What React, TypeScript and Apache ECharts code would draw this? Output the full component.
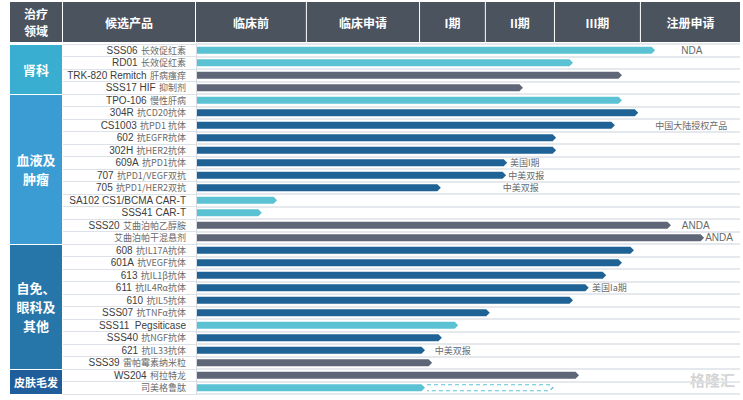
import React, { useEffect, useRef } from "react";
import * as echarts from "echarts";

// ---------- data ----------
const stages = ["临床前", "临床申请", "I期", "II期", "III期", "注册申请"];
// stage column boundaries, in % of the pipeline axis
const stageBounds = [0, 20.2, 41.0, 53.1, 65.8, 81.6, 100];

const domains = ["肾科", "血液及\n肿瘤", "自免、\n眼科及\n其他", "皮肤毛发"];
const domainCounts = [4, 12, 10, 2];

const productCodes = [
  "SSS06", "RD01", "TRK-820 Remitch", "SSS17 HIF",
  "TPO-106", "304R", "CS1003", "602", "302H", "609A", "707", "705",
  "SA102 CS1/BCMA CAR-T", "SSS41 CAR-T", "SSS20", "",
  "608", "601A", "613", "611", "610", "SSS07", "SSS11  Pegsiticase", "SSS40", "621", "SSS39",
  "WS204", "",
];
const productDescs = [
  "长效促红素", "长效促红素", "肝病瘙痒", "抑制剂",
  "慢性肝病", "抗CD20抗体", "抗PD1 抗体", "抗EGFR抗体", "抗HER2抗体", "抗PD1抗体", "抗PD1/VEGF双抗", "抗PD1/HER2双抗",
  "", "", "艾曲泊帕乙醇胺", "艾曲泊帕干混悬剂",
  "抗IL17A抗体", "抗VEGF抗体", "抗IL1β抗体", "抗IL4Rα抗体", "抗IL5抗体", "抗TNFα抗体", "", "抗NGF抗体", "抗IL33抗体", "雷帕霉素纳米粒",
  "柯拉特龙", "司美格鲁肽",
];
// progress along the pipeline (% of axis)
const progress = [
  84.4, 69.3, 78.3, 60.1,
  78.3, 81.3, 77.0, 66.2, 66.2, 57.2, 57.0, 45.0,
  14.9, 12.1, 87.3, 93.4,
  80.5, 78.3, 75.4, 72.2, 69.3, 54.0, 48.2, 45.2, 42.1, 43.4,
  70.4, 42.1,
];
// planned (dashed) extension end, 0 = none
const planned = [
  0, 0, 0, 0,
  0, 0, 0, 0, 0, 0, 0, 0,
  0, 0, 0, 0,
  0, 0, 0, 0, 0, 0, 0, 0, 0, 0,
  0, 65.6,
];
// bar colour group: c = cyan, b = blue, s = slate
const barGroup = [
  "c", "c", "s", "s",
  "c", "b", "b", "b", "b", "b", "b", "b",
  "c", "c", "s", "s",
  "b", "b", "b", "b", "b", "b", "c", "b", "b", "s",
  "s", "c",
];

const noteRows = [0, 6, 9, 10, 11, 14, 15, 19, 24];
const noteX = [89.2, 84.4, 57.7, 57.4, 56.4, 89.3, 93.6, 72.8, 43.9];
const noteTexts = ["NDA", "中国大陆授权产品", "美国I期", "中美双报", "中美双报", "ANDA", "ANDA", "美国Ia期", "中美双报"];

// ---------- layout / style ----------
const W = 743;
const H = 400;
const GRID_LEFT = 196;
const GRID_RIGHT = 3;
const GRID_TOP = 44;
const GRID_BOTTOM = 6;
const HEADER_TOP = 2;
const HEADER_H = 40;
const colors: Record<string, string> = { c: "#5BC2D4", b: "#1F6396", s: "#5E6677" };
const domainColors = ["#3AAED0", "#3A9CD2", "#2776AA", "#1F5E9A"];
const HEADER_BG = "#4B535F";
const CJK = "'Noto Sans CJK SC', 'Noto Sans', sans-serif";

export default function App() {
  const ref = useRef<HTMLDivElement>(null);

  useEffect(() => {
    if (!ref.current) return;
    const chart = echarts.init(ref.current, undefined, { renderer: "svg" });

    const plotW = W - GRID_LEFT - GRID_RIGHT;
    const plotH = H - GRID_TOP - GRID_BOTTOM;
    const rowH = plotH / productCodes.length;
    const vx = (v: number) => GRID_LEFT + (v / 100) * plotW;

    const graphics: any[] = [];
    // header cells
    const headerCells: { x0: number; x1: number; text: string }[] = [
      { x0: 10, x1: 62, text: "治疗\n领域" },
      { x0: 63, x1: 195, text: "候选产品" },
    ];
    stages.forEach((s, i) => {
      headerCells.push({ x0: vx(stageBounds[i]) + (i === 0 ? 0 : 1), x1: vx(stageBounds[i + 1]), text: s });
    });
    headerCells.forEach((c) => {
      graphics.push({
        type: "rect",
        shape: { x: c.x0, y: HEADER_TOP, width: c.x1 - c.x0, height: HEADER_H },
        style: { fill: HEADER_BG },
        silent: true,
      });
      graphics.push({
        type: "text",
        x: (c.x0 + c.x1) / 2,
        y: HEADER_TOP + HEADER_H / 2,
        style: {
          text: c.text,
          fill: "#ffffff",
          font: `bold 12px ${CJK}`,
          align: "center",
          verticalAlign: "middle",
          lineHeight: 17,
        },
        silent: true,
      });
    });
    // domain cells
    let acc = 0;
    domains.forEach((d, i) => {
      const y0 = GRID_TOP + acc * rowH;
      const h = domainCounts[i] * rowH;
      graphics.push({
        type: "rect",
        shape: { x: 10, y: y0 + 1, width: 52, height: h - 1 },
        style: { fill: domainColors[i] },
        silent: true,
      });
      graphics.push({
        type: "text",
        x: 36,
        y: y0 + h / 2,
        style: {
          text: d,
          fill: "#ffffff",
          font: `bold ${i === 3 ? 11 : 13}px ${CJK}`,
          align: "center",
          verticalAlign: "middle",
          lineHeight: 19,
        },
        silent: true,
      });
      acc += domainCounts[i];
    });
    // watermark
    graphics.push({
      type: "text",
      right: 8,
      top: 372,
      style: { text: "格隆汇", fill: "#d4d4d4", font: `bold 15px ${CJK}` },
      silent: true,
    });

    const rows = productCodes.map((_, i) => String(i));

    const option: any = {
      animation: false,
      backgroundColor: "#ffffff",
      grid: { left: GRID_LEFT, right: GRID_RIGHT, top: GRID_TOP, bottom: GRID_BOTTOM },
      xAxis: {
        type: "value",
        min: 0,
        max: 100,
        show: false,
      },
      yAxis: {
        type: "category",
        inverse: true,
        data: rows,
        axisLine: { show: true, lineStyle: { color: "#d6dbe1", width: 1 } },
        axisTick: { show: true, interval: 0, length: 133, lineStyle: { color: "#dde2e8", width: 1 } },
        splitLine: { show: true, interval: 0, lineStyle: { color: "#dde2e8", width: 1.5 } },
        axisLabel: {
          margin: 10,
          interval: 0,
          formatter: (_v: string, idx: number) => {
            const code = productCodes[idx];
            const desc = productDescs[idx];
            const parts: string[] = [];
            if (code) parts.push(`{a|${code}}`);
            if (desc) parts.push(`{b|${desc}}`);
            return parts.join(" ");
          },
          rich: {
            a: { fontFamily: "'Liberation Sans', Arial, sans-serif", fontSize: 10, color: "#3d3d3d" },
            b: { fontFamily: CJK, fontSize: 9, color: "#6a6a6a" },
          },
        },
      },
      graphic: graphics,
      series: [
        {
          type: "custom",
          name: "progress",
          encode: { x: [1, 2], y: 0 },
          data: progress.map((p, i) => [i, p, planned[i]]),
          renderItem: (params: any, api: any) => {
            const row = api.value(0);
            const end = api.value(1);
            const plan = api.value(2);
            const s = api.coord([0, row]);
            const e = api.coord([end, row]);
            const y = s[1];
            const h = 7;
            const tip = 3.5;
            const x0 = s[0] + 1;
            const x1 = e[0];
            const col = colors[barGroup[params.dataIndex]];
            const children: any[] = [
              {
                type: "polygon",
                shape: {
                  points: [
                    [x0, y - h / 2],
                    [x1 - tip, y - h / 2],
                    [x1, y],
                    [x1 - tip, y + h / 2],
                    [x0, y + h / 2],
                  ],
                },
                style: { fill: col },
              },
            ];
            if (plan) {
              const px = api.coord([plan, row])[0];
              children.push({
                type: "polyline",
                shape: {
                  points: [
                    [x1 + 2, y - h / 2 + 0.5],
                    [px - tip, y - h / 2 + 0.5],
                    [px, y],
                    [px - tip, y + h / 2 - 0.5],
                    [x1 + 2, y + h / 2 - 0.5],
                  ],
                },
                style: { stroke: col, fill: null, lineWidth: 1.2, lineDash: [4, 3] },
              });
            }
            return { type: "group", children };
          },
        },
        {
          type: "custom",
          name: "notes",
          encode: { x: 1, y: 0 },
          data: noteRows.map((r, i) => [r, noteX[i]]),
          renderItem: (params: any, api: any) => {
            const p = api.coord([api.value(1), api.value(0)]);
            const t = noteTexts[params.dataIndex];
            const latin = /^[A-Z]+$/.test(t);
            return {
              type: "text",
              x: p[0],
              y: p[1],
              style: {
                text: t,
                fill: "#6a6a6a",
                font: latin ? "10px 'Liberation Sans', Arial, sans-serif" : `9px ${CJK}`,
                align: "left",
                verticalAlign: "middle",
              },
            };
          },
        },
      ],
    };

    chart.setOption(option);
    return () => chart.dispose();
  }, []);

  return (
    <div
      ref={ref}
      style={{ position: "fixed", left: 0, top: 0, width: W, height: H, background: "#fff" }}
    />
  );
}
